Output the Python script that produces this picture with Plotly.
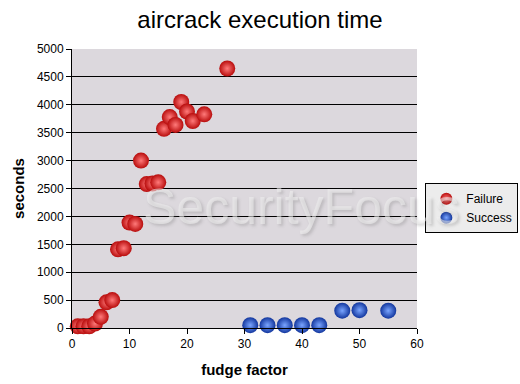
import plotly.graph_objects as go

failure_x = [1, 2, 3, 4, 5, 6, 7, 8, 9, 10, 11, 12, 13, 14, 15, 16, 17, 18, 19, 20, 21, 23, 27]
failure_y = [30, 30, 30, 80, 200, 460, 500, 1410, 1430, 1890, 1865, 3000, 2580, 2590, 2610, 3570, 3780, 3640, 4050, 3880, 3710, 3830, 4650]

success_x = [31, 34, 37, 40, 43, 47, 50, 55]
success_y = [50, 50, 50, 50, 50, 310, 320, 310]

x_ticks = [0, 10, 20, 30, 40, 50, 60]
y_ticks = [0, 500, 1000, 1500, 2000, 2500, 3000, 3500, 4000, 4500, 5000]

FONT = "Arial, Liberation Sans, sans-serif"

fig = go.Figure()
fig.add_trace(go.Scatter(
    x=failure_x, y=failure_y, mode="markers", name="Failure",
    marker=dict(size=16, color="#b80c0c", line=dict(width=0),
                gradient=dict(type="radial", color="#ff7a7a")),
    cliponaxis=False,
))
fig.add_trace(go.Scatter(
    x=success_x, y=success_y, mode="markers", name="Success",
    marker=dict(size=16, color="#12369e", line=dict(width=0),
                gradient=dict(type="radial", color="#7aa5ff")),
    cliponaxis=False,
))

# watermark
fig.add_annotation(
    text="SecurityFocus", xref="paper", yref="paper", x=0.2, y=0.434,
    xanchor="left", yanchor="middle", showarrow=False,
    font=dict(family=FONT, size=50, color="rgba(240,240,240,0.55)",
              shadow="2px 2px 3px rgba(110,110,110,0.5)"),
)

fig.update_layout(
    width=520, height=384,
    margin=dict(l=72, r=103, t=49, b=56),
    paper_bgcolor="white",
    plot_bgcolor="#dcd8dd",
    font=dict(family=FONT, size=12, color="black"),
    title=dict(text="aircrack execution time", x=0.5, xref="container",
               y=0.948, yanchor="middle", font=dict(size=24, color="black")),
    showlegend=True,
    legend=dict(xref="container", yref="container", x=0.818, y=0.523,
                xanchor="left", yanchor="top",
                bgcolor="#ececec", bordercolor="black", borderwidth=1,
                font=dict(size=12), itemsizing="constant", itemwidth=30,
                tracegroupgap=0),
    xaxis=dict(range=[0, 60], tickvals=x_ticks, showgrid=False,
               showline=True, linecolor="black", linewidth=1,
               ticks="outside", ticklen=5, tickcolor="black",
               zeroline=False, automargin=False,
               title=dict(text="<b>fudge factor</b>", font=dict(size=15), standoff=14)),
    yaxis=dict(range=[0, 5000], tickvals=y_ticks, showgrid=True,
               gridcolor="black", gridwidth=1,
               showline=True, linecolor="black", linewidth=1,
               ticks="outside", ticklen=5, tickcolor="black",
               zeroline=False, automargin=False,
               title=dict(text="<b>seconds</b>", font=dict(size=15), standoff=8)),
)

fig.write_html("out.html")
